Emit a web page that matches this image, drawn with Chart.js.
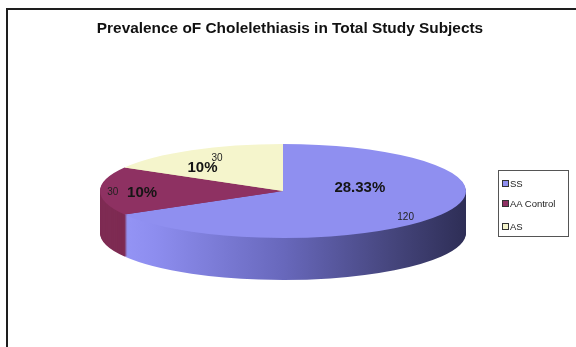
<!DOCTYPE html>
<html>
<head>
<meta charset="utf-8">
<script src="https://cdn.jsdelivr.net/npm/chart.js@4.4.0/dist/chart.umd.min.js"></script>
<style>
  body { margin: 0; background: #fff; font-family: "Liberation Sans", Arial, sans-serif; }
  #wrap { position: relative; width: 576px; height: 347px; overflow: hidden; }
  #frame { position: absolute; left: 6px; top: 8px; width: 700px; height: 500px;
           border-top: 2px solid #1e1e1e; border-left: 2px solid #1e1e1e; }
  #legend { position: absolute; left: 498px; top: 170px; width: 71px; height: 67px;
            border: 1px solid #555; box-sizing: border-box; font-size: 9.5px; color: #222; }
  .item { position: absolute; left: 3px; height: 10px; line-height: 10px; white-space: nowrap; }
  .sw { display: inline-block; width: 5px; height: 5px; border: 1px solid #333; margin-right: 1px; vertical-align: 0px; }
</style>
</head>
<body>
<div id="wrap">
  <canvas id="chart" width="576" height="347"></canvas>
  <div id="frame"></div>
  <div id="legend"></div>
</div>
<script>
const categories = ["SS", "AA Control", "AS"];
const values = [120, 30, 30];
const percentLabels = ["28.33%", "10%", "10%"];
const topColors = ["#8f8ff0", "#8e3162", "#f5f5cc"];
const sideColors = [null, "#7e2b53", "#cfcfa6"];

// where the flattened pie sits on the page
const CX = 283, CY = 191, RX = 183, RY = 47, DEPTH = 42;

// label offsets, as fractions of the ellipse radii
const pctPos = [[0.42, -0.07], [-0.77, 0.03], [-0.44, -0.49]];
const valPos = [[0.67, 0.55], [-0.93, 0.02], [-0.36, -0.7]];

// legend
const legendDiv = document.getElementById("legend");
const legendY = [8, 28, 51];
categories.forEach((c, i) => {
  const d = document.createElement("div");
  d.className = "item";
  d.style.top = legendY[i] + "px";
  d.innerHTML = `<span class="sw" style="background:${topColors[i]}"></span>${c}`;
  legendDiv.appendChild(d);
});

function sideGradient(ctx, arc) {
  const g = ctx.createLinearGradient(arc.x - arc.outerRadius, 0, arc.x + arc.outerRadius, 0);
  g.addColorStop(0, "#9a9afa");
  g.addColorStop(0.15, "#8d8def");
  g.addColorStop(0.5, "#6868bc");
  g.addColorStop(0.8, "#45457c");
  g.addColorStop(1, "#2e2e56");
  return g;
}

// squash the pie into an ellipse and give it a side wall
const pie3d = {
  id: "pie3d",
  beforeDatasetsDraw(chart) {
    const ctx = chart.ctx;
    const arcs = chart.getDatasetMeta(0).data;
    const a0 = arcs[0];
    const sx = RX / a0.outerRadius, sy = RY / a0.outerRadius;
    ctx.save();
    ctx.translate(CX, CY);
    ctx.scale(sx, sy);
    ctx.translate(-a0.x, -a0.y);
    for (let k = DEPTH; k >= 1; k--) {
      ctx.save();
      ctx.translate(0, k / sy);
      arcs.forEach((arc, i) => {
        const fake = Object.create(arc);
        fake.options = Object.assign({}, arc.options, {
          backgroundColor: sideColors[i] || sideGradient(ctx, arc),
          borderWidth: 0
        });
        fake.draw(ctx);
      });
      ctx.restore();
    }
  },
  afterDatasetsDraw(chart) {
    const ctx = chart.ctx;
    ctx.restore();
    ctx.save();
    ctx.textAlign = "center";
    ctx.textBaseline = "middle";
    ctx.fillStyle = "#151515";
    ctx.font = "bold 15px 'Liberation Sans', Arial, sans-serif";
    percentLabels.forEach((t, i) => {
      ctx.fillText(t, CX + pctPos[i][0] * RX, CY + pctPos[i][1] * RY);
    });
    ctx.fillStyle = "#222";
    ctx.font = "10px 'Liberation Sans', Arial, sans-serif";
    values.forEach((v, i) => {
      ctx.fillText(String(v), CX + valPos[i][0] * RX, CY + valPos[i][1] * RY);
    });
    ctx.restore();
  }
};

new Chart(document.getElementById("chart"), {
  type: "pie",
  data: {
    labels: categories,
    datasets: [{
      data: values,
      backgroundColor: topColors,
      borderWidth: 0,
      clip: false
    }]
  },
  options: {
    responsive: false,
    animation: false,
    devicePixelRatio: 1,
    layout: { padding: { left: 4 } },
    plugins: {
      legend: { display: false },
      tooltip: { enabled: false },
      title: {
        display: true,
        text: "Prevalence oF Cholelethiasis in Total Study Subjects",
        color: "#111",
        font: { family: "'Liberation Sans', Arial, sans-serif", size: 15.4, weight: "bold" },
        padding: { top: 20, bottom: 10 }
      }
    }
  },
  plugins: [pie3d]
});
</script>
</body>
</html>
